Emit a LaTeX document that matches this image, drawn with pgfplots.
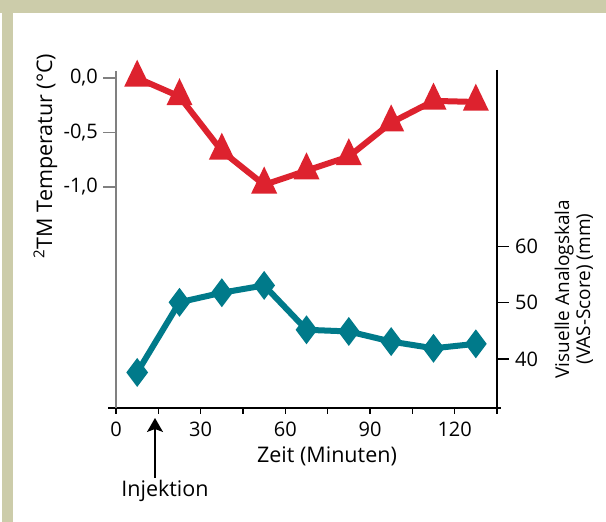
\documentclass[border=0pt]{standalone}
\usepackage{fontspec}
\setmainfont{Open Sans}
\usepackage{pgfplots}
\pgfplotsset{compat=1.18}
\usetikzlibrary{arrows.meta}

\definecolor{framebg}{RGB}{204,204,170}
\definecolor{tempred}{RGB}{221,34,46}
\definecolor{vasteal}{RGB}{0,122,138}
\definecolor{axgray}{RGB}{128,128,128}

\pgfplotsset{
  base/.style={
    at={(116pt,114pt)}, anchor=south west, scale only axis,
    width=381pt, height=338pt,
    xmin=0, xmax=135,
    axis line style={draw=none},
    major tick length=0pt,
    tick label style={font=\fontsize{20}{24}\selectfont},
    clip=false,
  },
}
\newcommand\lab{\fontsize{21.5}{26}\selectfont}
\newcommand\rlab{\fontsize{19}{23}\selectfont}

\begin{document}
\begin{tikzpicture}[x=1pt,y=1pt]
\useasboundingbox (0,0) rectangle (606,522);
\fill[white] (0,0) rectangle (606,522);
\fill[framebg] (0,509) rectangle (606,522);
\fill[framebg] (2,0) rectangle (13,522);

% temperature (left axis)
\begin{axis}[base,
  ymin=-3.0275, ymax=0.0734,
  xtick={0,30,60,90,120}, xticklabels={0,30,60,90,120},
  xtick pos=bottom,
  xticklabel style={inner sep=0pt, anchor=north, yshift=-14pt},
  ytick={-1,-0.5,0}, yticklabels={{-1,0},{-0,5},{0,0}},
  ytick pos=left,
  yticklabel style={inner sep=0pt, anchor=east, xshift=-18pt},
]
\addplot[tempred, line width=6pt, mark=triangle*, mark size=9.5pt,
  mark options={solid, yscale=1.2}] coordinates {
  (7.5,0.0) (22.5,-0.17) (37.5,-0.67) (52.5,-0.98) (67.5,-0.85)
  (82.5,-0.72) (97.5,-0.41) (112.5,-0.21) (127.5,-0.22)
};
\end{axis}

% VAS score (right axis)
\begin{axis}[base,
  ymin=31.27, ymax=91.47,
  xtick=\empty,
  ytick={40,50,60}, yticklabels={40,50,60},
  ytick pos=right, yticklabel pos=right,
  yticklabel style={inner sep=0pt, anchor=west, xshift=18pt},
]
\addplot[vasteal, line width=6pt, mark=diamond*, mark size=9.5pt,
  mark options={solid}] coordinates {
  (7.5,37.6) (22.5,50.1) (37.5,51.8) (52.5,53.1) (67.5,45.2)
  (82.5,44.9) (97.5,43.1) (112.5,41.9) (127.5,42.7)
};
\end{axis}

% axis lines and ticks
\draw[black, line width=1.2pt] (108,114) -- (501,114);
\draw[axgray, line width=1.3pt] (116,451) -- (116,108);
\draw[black, line width=1.2pt] (497,452) -- (497,108);
\foreach \x in {116,158.3,200.7,243,285.3,327.7,370,412.3,454.7,497}
  \draw[black, line width=1.2pt] (\x,114) -- (\x,108);
\foreach \y in {444,389.5,335}
  \draw[axgray, line width=1.2pt] (116,\y) -- (103,\y);
\foreach \y in {163,219.2,275.3}
  \draw[black, line width=1.2pt] (497,\y) -- (509,\y);

% labels
\node[rotate=90, anchor=base, inner sep=0pt, font=\lab] at (52,366)
  {\textsuperscript{2}TM Temperatur (°C)};
\node[anchor=base, inner sep=0pt, font=\lab] at (327,59) {Zeit (Minuten)};
\node[rotate=90, anchor=base, inner sep=0pt, font=\rlab] at (569,233) {Visuelle Analogskala};
\node[rotate=90, anchor=base, inner sep=0pt, font=\rlab] at (590,233) {(VAS-Score) (mm)};

% injection marker
\draw[-{Stealth[length=14pt,width=16pt,inset=3pt]}, line width=1.2pt]
  (155,44) -- (155,104);
\node[anchor=base, inner sep=0pt, font=\lab] at (165,25) {Injektion};
\end{tikzpicture}
\end{document}
